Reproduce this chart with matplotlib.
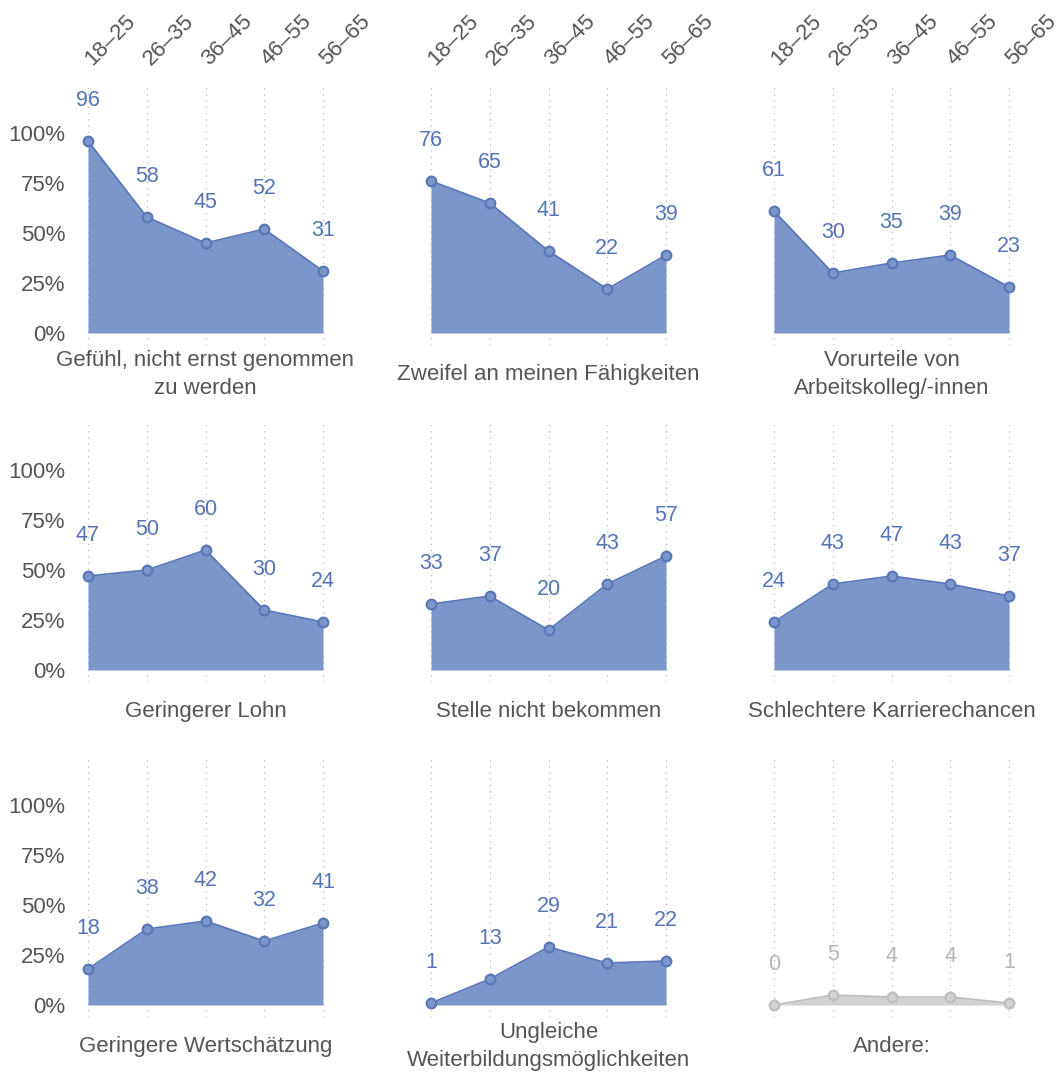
import matplotlib
matplotlib.use("Agg")
import matplotlib.pyplot as plt

plt.rcParams['font.family'] = ['Liberation Sans', 'DejaVu Sans']

ages = ["18–25", "26–35", "36–45", "46–55", "56–65"]
titles = ["Gefühl, nicht ernst genommen\nzu werden",
          "Zweifel an meinen Fähigkeiten",
          "Vorurteile von\nArbeitskolleg/-innen",
          "Geringerer Lohn",
          "Stelle nicht bekommen",
          "Schlechtere Karrierechancen",
          "Geringere Wertschätzung",
          "Ungleiche\nWeiterbildungsmöglichkeiten",
          "Andere:"]
values = [[96, 58, 45, 52, 31],
          [76, 65, 41, 22, 39],
          [61, 30, 35, 39, 23],
          [47, 50, 60, 30, 24],
          [33, 37, 20, 43, 57],
          [24, 43, 47, 43, 37],
          [18, 38, 42, 32, 41],
          [1, 13, 29, 21, 22],
          [0, 5, 4, 4, 1]]
yticks = [0, 25, 50, 75, 100]

W, H = 1062, 1075
fig = plt.figure(figsize=(W / 100, H / 100), dpi=100)

xs = range(len(ages))
col_left = [76.25, 419.25, 762.25]
zero_y = [333, 670, 1005]
px_unit = 2.0
ylo, yhi = -6, 125
xlo, xhi = -0.2, 4.2
step = 58.75

blue_fill = "#7b96c8"
blue_line = "#5875b9"
blue_text = "#5574b8"
grey_text = "#555555"

for i, (vals, title) in enumerate(zip(values, titles)):
    r, c = divmod(i, 3)
    left = col_left[c]
    width = (xhi - xlo) * step
    bottom_px = zero_y[r] - ylo * px_unit
    height = (yhi - ylo) * px_unit
    ax = fig.add_axes([left / W, 1 - bottom_px / H, width / W, height / H])
    other = title.startswith("Andere")
    fc = "#d2d2d2" if other else blue_fill
    lc = "#bdbdbd" if other else blue_line
    tc = "#b5b5b5" if other else blue_text

    ax.fill_between(xs, 0, vals, color=fc, lw=0, zorder=2)
    ax.plot(xs, vals, color=lc, lw=1.2, marker="o", ms=7,
            mfc=fc, mec=lc, mew=1.5, zorder=3)
    for x, v in zip(xs, vals):
        ax.annotate(str(v), (x, v), xytext=(0, 29), textcoords="offset points",
                    ha="center", va="center", fontsize=15.5, color=tc)

    ax.set_xlim(xlo, xhi)
    ax.set_ylim(ylo, yhi)
    for s in ax.spines.values():
        s.set_visible(False)
    ax.set_xticks(list(xs))
    ax.grid(axis="x", linestyle=(0, (1, 4)), color="#bbbbbb", lw=0.9, zorder=1)
    ax.tick_params(length=0)
    if r == 0:
        ax.xaxis.tick_top()
        ax.set_xticklabels(ages, rotation=45, ha="left", va="center",
                           rotation_mode="anchor", fontsize=16, color=grey_text)
        ax.tick_params(axis="x", pad=15)
    else:
        ax.set_xticklabels([])
    ax.set_yticks(yticks)
    if c == 0:
        ax.set_yticklabels([f"{t}%" for t in yticks], fontsize=16, color=grey_text)
        ax.tick_params(axis="y", pad=8)
    else:
        ax.set_yticklabels([])
    ax.annotate(title, (2, 0), xytext=(0, -30), textcoords="offset points",
                ha="center", va="center", fontsize=16, color=grey_text,
                linespacing=1.4)

fig.savefig("out.png", dpi=100)
